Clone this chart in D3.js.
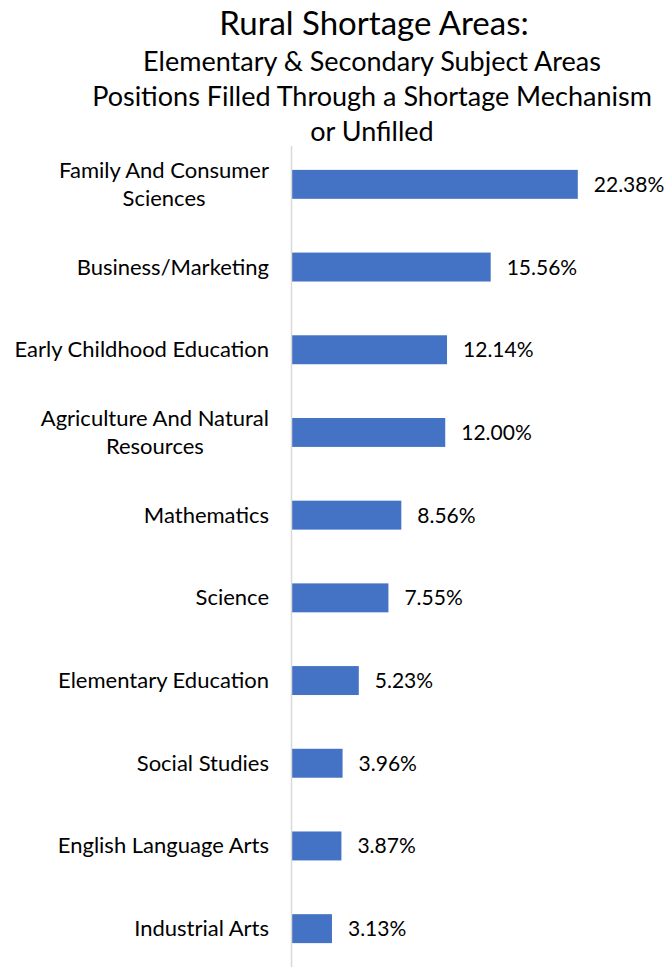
<!DOCTYPE html>
<html>
<head>
<meta charset="utf-8">
<script src="https://cdn.jsdelivr.net/npm/d3@7"></script>
<style>
  body { margin: 0; background: #fff; }
  svg { display: block; font-family: Lato, "Open Sans", sans-serif; }
</style>
</head>
<body>
<svg id="chart" width="667" height="967"></svg>
<script>
// Rural shortage areas, horizontal bars, largest on top
const subjects = [
  ["Family And Consumer", "Sciences"],
  ["Business/Marketing"],
  ["Early Childhood Education"],
  ["Agriculture And Natural", "Resources"],
  ["Mathematics"],
  ["Science"],
  ["Elementary Education"],
  ["Social Studies"],
  ["English Language Arts"],
  ["Industrial Arts"]
];
const pct = [22.38, 15.56, 12.14, 12.00, 8.56, 7.55, 5.23, 3.96, 3.87, 3.13];
const titleLines = ["Rural Shortage Areas:"];
const subtitleLines = [
  "Elementary & Secondary Subject Areas",
  "Positions Filled Through a Shortage Mechanism",
  "or Unfilled"
];

const W = 667, H = 967;
const X0 = 292;
const svg = d3.select("#chart");

const keys = subjects.map((s) => s.join(" "));
const x = d3.scaleLinear().domain([0, 25]).range([X0, X0 + 25 * 12.77]);
const y = d3.scaleBand().domain(keys).range([143, 970]).paddingInner(0.65).paddingOuter(0.325);

// titles
svg.append("text")
  .attr("x", 374).attr("y", 35)
  .attr("text-anchor", "middle")
  .attr("font-size", 33).attr("fill", "#000")
  .text(titleLines[0]);
svg.selectAll("text.sub")
  .data(subtitleLines)
  .join("text")
  .attr("class", "sub")
  .attr("x", 372)
  .attr("y", (d, i) => 71 + i * 35)
  .attr("text-anchor", "middle")
  .attr("font-size", 27).attr("fill", "#000")
  .text((d) => d);

// bars
svg.selectAll("rect.bar")
  .data(pct)
  .join("rect")
  .attr("class", "bar")
  .attr("x", x(0))
  .attr("y", (d, i) => y(keys[i]))
  .attr("width", (d) => x(d) - x(0))
  .attr("height", y.bandwidth())
  .attr("fill", "#4472C4");

// category axis line
svg.append("line")
  .attr("x1", X0 - 0.5).attr("x2", X0 - 0.5)
  .attr("y1", 146).attr("y2", H)
  .attr("stroke", "#d9d9d9").attr("stroke-width", 1.5);

// category labels (multi-line, centred within a right-aligned block)
const lab = svg.append("g").attr("font-size", 22).attr("fill", "#000");
subjects.forEach((lines, i) => {
  const cy = y(keys[i]) + y.bandwidth() / 2;
  const t = lab.append("text").attr("text-anchor", "middle");
  const n = lines.length;
  const spans = lines.map((l, j) =>
    t.append("tspan").attr("y", cy + 7.5 + (j - (n - 1) / 2) * 28).text(l));
  const wMax = d3.max(spans, (s) => s.node().getComputedTextLength());
  spans.forEach((s) => s.attr("x", 269 - wMax / 2));
});

// value labels
svg.selectAll("text.val")
  .data(pct)
  .join("text")
  .attr("class", "val")
  .attr("x", (d) => x(d) + 16)
  .attr("y", (d, i) => y(keys[i]) + y.bandwidth() / 2 + 7.5)
  .attr("font-size", 21).attr("fill", "#000")
  .text((d) => d.toFixed(2) + "%");
</script>
</body>
</html>
